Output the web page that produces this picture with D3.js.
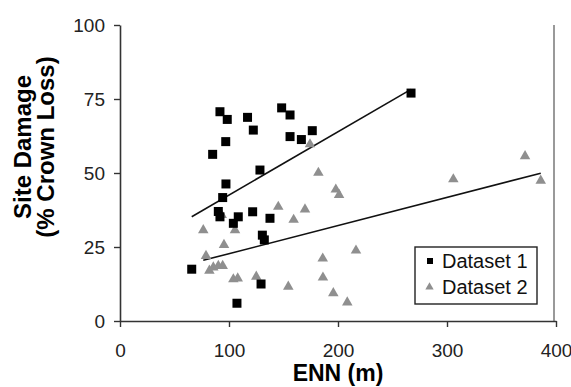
<!DOCTYPE html>
<html>
<head>
<meta charset="utf-8">
<script src="https://cdn.jsdelivr.net/npm/d3@7"></script>
<style>
  body { margin: 0; background: #fff; }
  text { font-family: Arial, 'Liberation Sans', sans-serif; }
</style>
</head>
<body>
<div id="mount"></div>
<script>
'use strict';

// values: ENN (m) and site damage (% crown loss)
const enn1 = [65.8, 85, 91.7, 98.4, 97, 97.2, 94.2, 90.2, 91.7, 104, 108.5, 107.3, 117,
              122.3, 121.7, 128.4, 130.6, 132.4, 129.4, 137.6, 148.3, 156, 156, 166.4, 176.4, 267];
const damage1 = [17.5, 56.3, 70.7, 68.1, 60.6, 46.3, 41.7, 37, 35.2, 33, 35.2, 6, 68.8,
                 64.5, 36.9, 51, 29, 27.4, 12.5, 34.7, 72, 69.6, 62.3, 61.3, 64.3, 77];

const enn2 = [76.4, 78.9, 82, 85.6, 90.2, 94.2, 93.3, 95.4, 105.5, 104, 108, 125, 145.2, 154.4,
              159.3, 169.7, 174.3, 182, 186, 186.2, 195.7, 198, 201, 208.5, 216.5, 305.8, 371.6, 386];
const damage2 = [30.7, 22, 17, 18.1, 18.6, 18.6, 35.8, 25.7, 30.7, 14.1, 14.4, 15, 38.6, 11.6,
                 34.2, 37.7, 59.7, 50.1, 21.1, 14.7, 9.4, 44.4, 42.6, 6.3, 23.8, 47.9, 55.7, 47.4];

const seriesNames = ['Dataset 1', 'Dataset 2'];
const xTicks = [0, 100, 200, 300, 400];
const yTicks = [0, 25, 50, 75, 100];

const width = 571, height = 387;
const margin = { top: 25, left: 120, bottom: 66, right: 15 };

const svg = d3.select('#mount').append('svg')
    .attr('width', width)
    .attr('height', height);

const x = d3.scaleLinear().domain([0, 400]).range([margin.left, width - margin.right]);
const y = d3.scaleLinear().domain([0, 100]).range([height - margin.bottom, margin.top]);

const gray = '#8f8f8f';

// least squares fit for each dataset, drawn between its smallest and largest x
function fit(xs, ys) {
  const mx = d3.mean(xs), my = d3.mean(ys);
  const b = d3.sum(xs, (v, i) => (v - mx) * (ys[i] - my)) / d3.sum(xs, v => (v - mx) * (v - mx));
  const a = my - b * mx;
  const [x0, x1] = d3.extent(xs);
  return [[x0, a + b * x0], [x1, a + b * x1]];
}

// axes
const xAxis = svg.append('g')
    .attr('transform', `translate(0,${y(0)})`)
    .call(d3.axisBottom(x).tickValues(xTicks).tickSize(6).tickPadding(17).tickSizeOuter(0));
const yAxis = svg.append('g')
    .attr('transform', `translate(${x(0)},0)`)
    .call(d3.axisLeft(y).tickValues(yTicks).tickSize(6).tickPadding(9).tickSizeOuter(0));

[xAxis, yAxis].forEach(g => {
  g.select('.domain').attr('stroke', '#333').attr('stroke-width', 1.6);
  g.selectAll('.tick line').attr('stroke', '#333').attr('stroke-width', 1.4);
  g.selectAll('.tick text').attr('fill', '#222').style('font-size', '19px');
});

// right frame line
svg.append('line')
    .attr('x1', x(400) - 2).attr('x2', x(400) - 2)
    .attr('y1', y(100)).attr('y2', y(0))
    .attr('stroke', '#555').attr('stroke-width', 1.2);

// trend lines
const line = d3.line().x(d => x(d[0])).y(d => y(d[1]));
[fit(enn1, damage1), fit(enn2, damage2)].forEach(seg => {
  svg.append('path')
      .attr('d', line(seg))
      .attr('fill', 'none')
      .attr('stroke', '#111')
      .attr('stroke-width', 1.6);
});

// points
const tri = d3.symbol().type(d3.symbolTriangle).size(48);
svg.append('g').selectAll('path')
    .data(d3.zip(enn2, damage2))
  .enter().append('path')
    .attr('d', tri)
    .attr('transform', d => `translate(${x(d[0])},${y(d[1])})`)
    .attr('fill', gray);

svg.append('g').selectAll('rect')
    .data(d3.zip(enn1, damage1))
  .enter().append('rect')
    .attr('x', d => x(d[0]) - 4.5)
    .attr('y', d => y(d[1]) - 4.5)
    .attr('width', 9)
    .attr('height', 9)
    .attr('fill', '#000');

// axis titles
svg.append('text')
    .attr('x', (x(0) + x(400)) / 2)
    .attr('y', 381)
    .attr('text-anchor', 'middle')
    .style('font-size', '23px')
    .style('font-weight', 'bold')
    .text('ENN (m)');

const yTitle = svg.append('g').attr('transform', 'translate(0,147) rotate(-90)');
yTitle.append('text')
    .attr('y', 31)
    .attr('text-anchor', 'middle')
    .style('font-size', '24px')
    .style('font-weight', 'bold')
    .text('Site Damage');
yTitle.append('text')
    .attr('y', 54)
    .attr('text-anchor', 'middle')
    .style('font-size', '24px')
    .style('font-weight', 'bold')
    .text('(% Crown Loss)');

// legend
const legend = svg.append('g').attr('transform', 'translate(415,247)');
legend.append('rect')
    .attr('width', 122).attr('height', 57)
    .attr('fill', '#fff').attr('stroke', '#222').attr('stroke-width', 1.4);

const items = legend.selectAll('g.item')
    .data(seriesNames)
  .enter().append('g')
    .attr('class', 'item')
    .attr('transform', (d, i) => `translate(0,${14 + i * 26})`);

items.filter((d, i) => i === 0).append('rect')
    .attr('x', 12).attr('y', -3).attr('width', 6).attr('height', 6).attr('fill', '#000');
items.filter((d, i) => i === 1).append('path')
    .attr('d', d3.symbol().type(d3.symbolTriangle).size(30))
    .attr('transform', 'translate(14.5,0)')
    .attr('fill', gray);

items.append('text')
    .attr('x', 27)
    .attr('y', 7)
    .style('font-size', '20px')
    .attr('fill', '#111')
    .text(d => d);
</script>
</body>
</html>
